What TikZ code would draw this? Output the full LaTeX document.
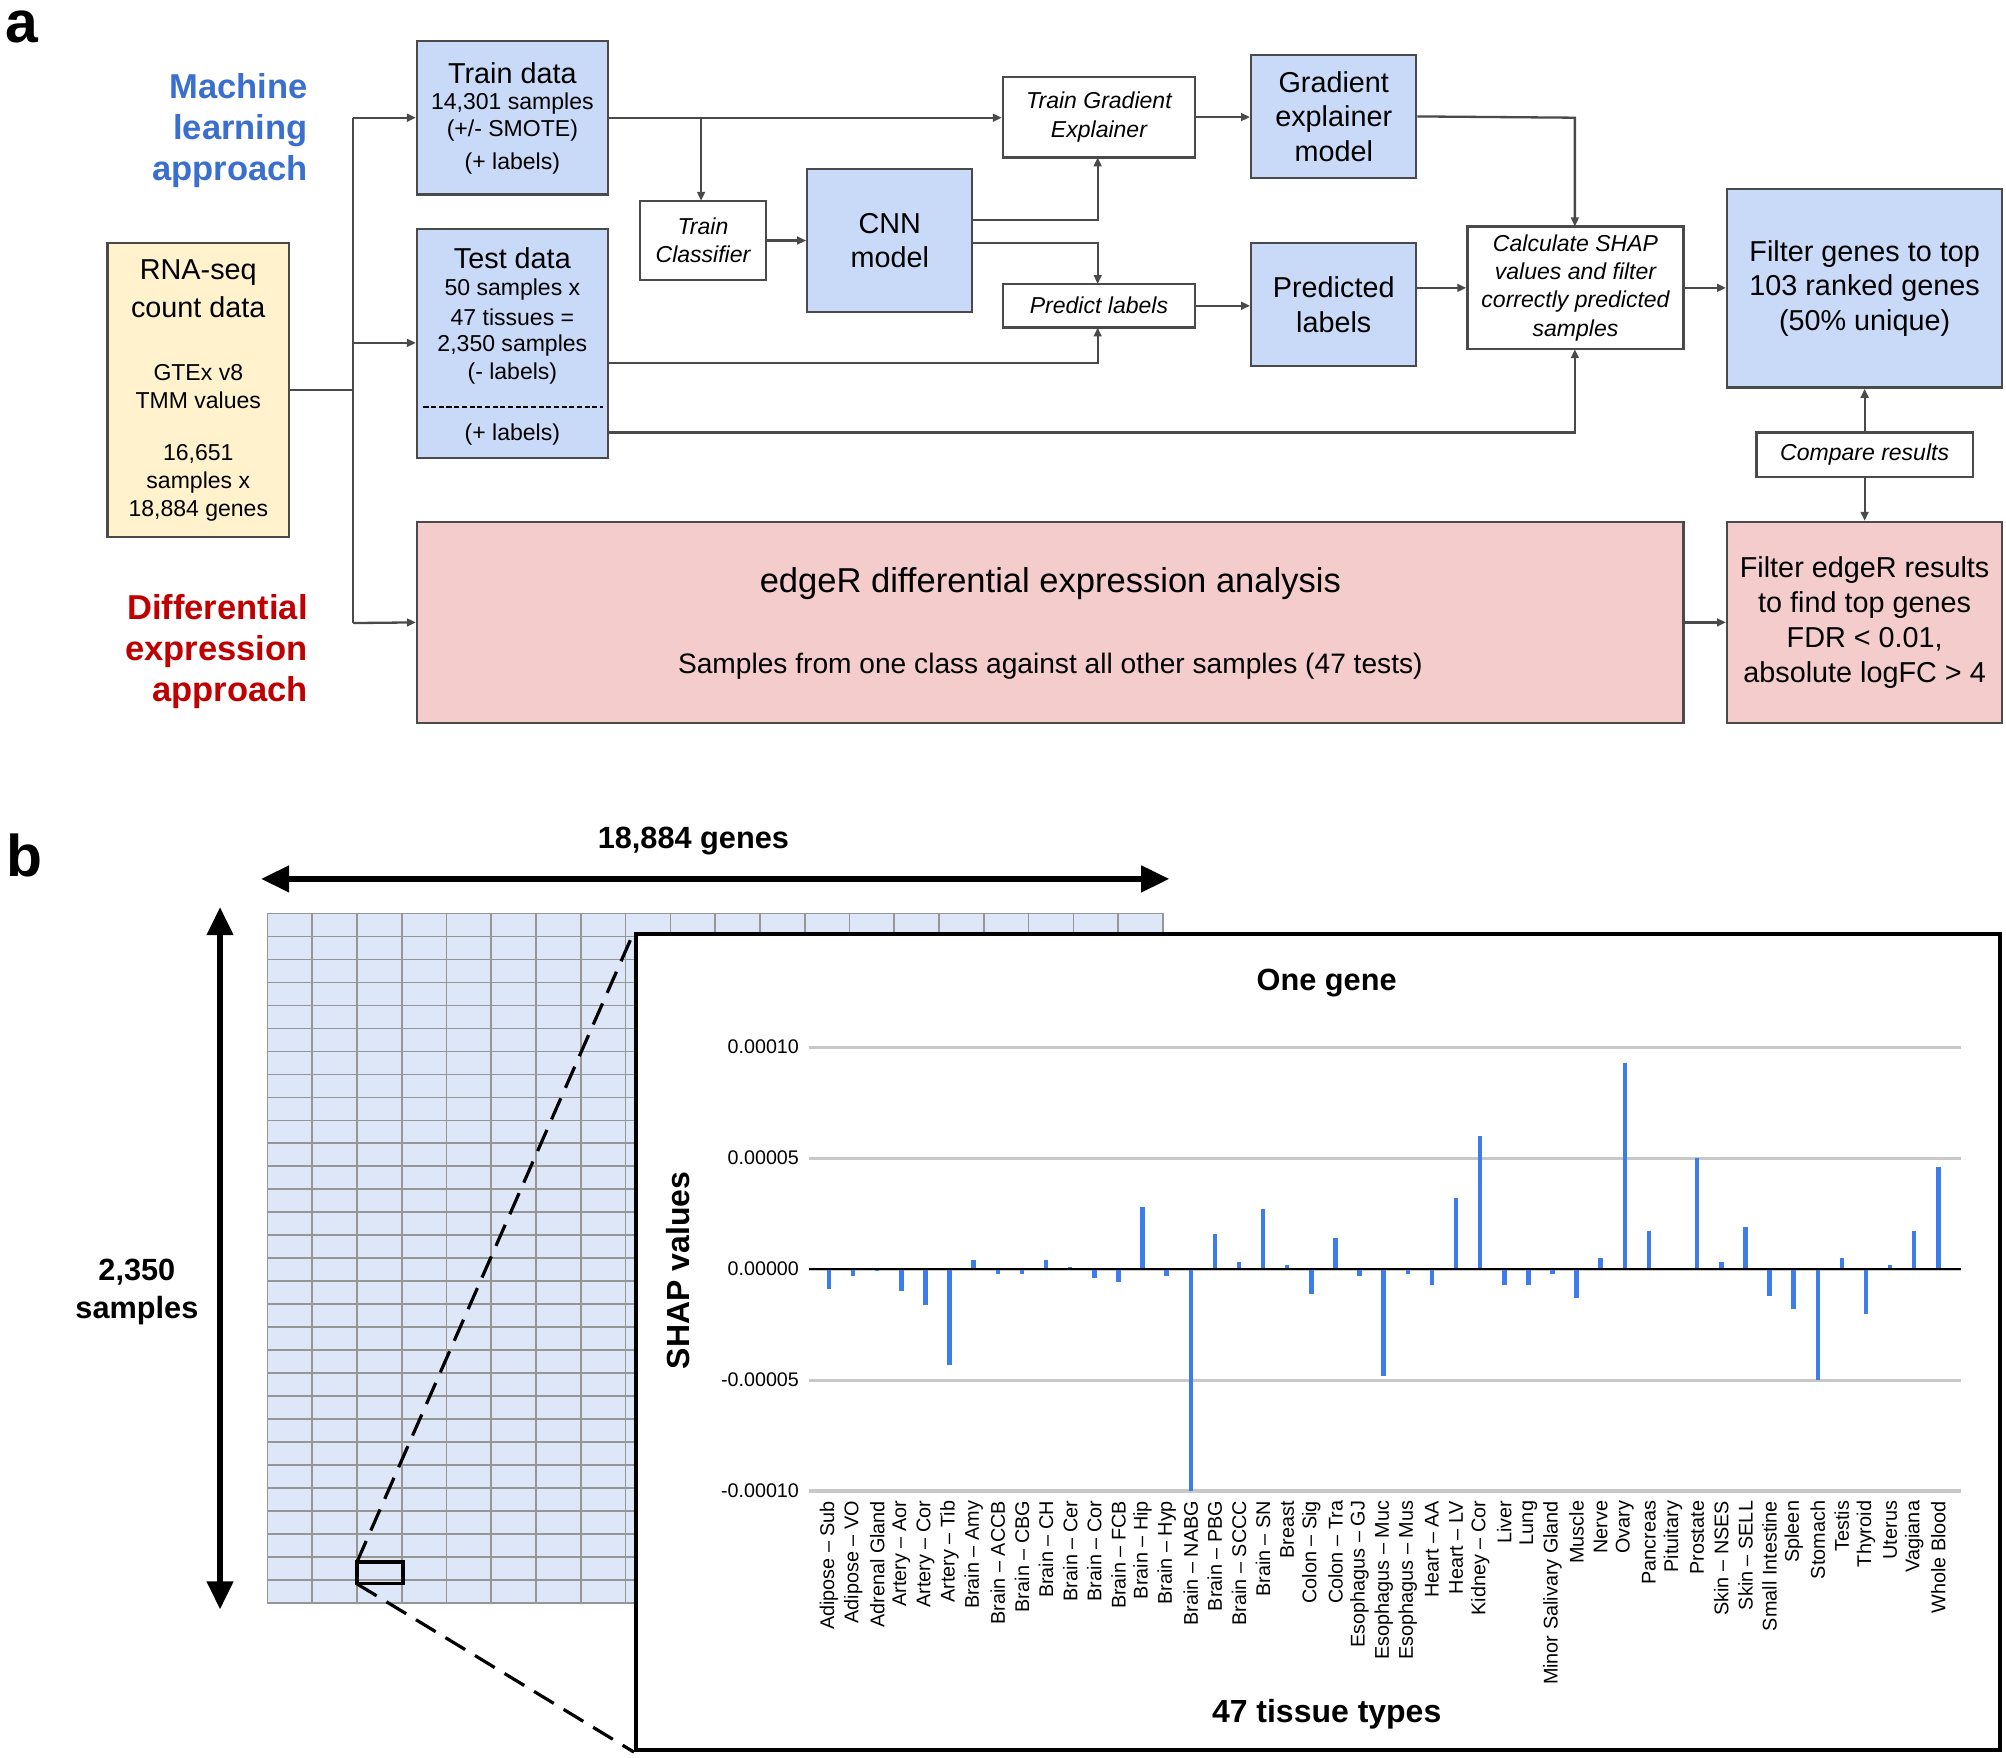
\documentclass[tikz,border=0pt]{standalone}
\usepackage{fontspec}
\setmainfont{Liberation Sans}
\usetikzlibrary{arrows.meta}
\definecolor{bl}{HTML}{C9DAF8}
\definecolor{yl}{HTML}{FFF2CC}
\definecolor{pk}{HTML}{F4CCCC}
\definecolor{mlc}{HTML}{3A6FD0}
\definecolor{dec}{HTML}{C00000}
\definecolor{ln}{HTML}{4A4A4A}
\definecolor{bar}{HTML}{3C7DEB}
\definecolor{gridfill}{HTML}{DEE7F8}
\definecolor{gridln}{HTML}{969696}
\definecolor{axln}{HTML}{C8C8C8}
\begin{document}
\begin{tikzpicture}[x=1pt,y=-1pt,
 box/.style={draw=ln,line width=1.8pt,inner sep=0pt,align=center},
 arr/.style={draw=ln,line width=1.8pt,-{Triangle[length=7pt,width=6pt]}},
 ln/.style={draw=ln,line width=1.8pt},
 fs/.style={font=\fontsize{#1}{#1}\selectfont},
 big/.style={font=\fontsize{27}{32}\selectfont\bfseries}]
\useasboundingbox (0,0) rectangle (1568,1374);
\node[font=\fontsize{46}{46}\selectfont\bfseries,anchor=base] (la) at (17,33) {a};
\node[font=\fontsize{46}{46}\selectfont\bfseries,anchor=base] (lb) at (19,685) {b};
\node[big,text=mlc,align=right,anchor=east] (ml) at (244,102) {Machine\\learning\\approach};
\node[big,text=dec,align=right,anchor=east] (de) at (244,509) {Differential\\expression\\approach};
% boxes
\node[box,fill=yl,minimum width=142pt,minimum height=230pt] (rna) at (155,305) {};
\node[fs=22.5] at (155,213) {RNA-seq}; \node[fs=22.5] at (155,240) {count data};
\node[fs=18] at (155,291) {GTEx v8}; \node[fs=18] at (155,313) {TMM values};
\node[fs=18] at (155,355) {16,651}; \node[fs=18] at (155,377) {samples x}; \node[fs=18] at (155,399) {18,884 genes};
\node[box,fill=bl,minimum width=149pt,minimum height=120pt] (train) at (400.5,92) {};
\node[fs=22.5] at (400.5,57) {Train data}; \node[fs=18] at (400.5,81) {14,301 samples};
\node[fs=18] at (400.5,102) {(+/- SMOTE)}; \node[fs=18] at (400.5,128) {(+ labels)};
\node[box,fill=bl,minimum width=149pt,minimum height=179pt] (test) at (400.5,268.5) {};
\node[fs=22.5] at (400.5,202) {Test data}; \node[fs=18] at (400.5,226) {50 samples x};
\node[fs=18] at (400.5,248) {47 tissues =}; \node[fs=18] at (400.5,270) {2,350 samples};
\node[fs=18] at (400.5,292) {(- labels)}; \node[fs=18] at (400.5,340) {(+ labels)};
\draw[line width=1.3pt,dash pattern=on 4pt off 2pt] (331,318) -- (471,318);
\node[box,fill=white,minimum width=99pt,minimum height=62pt,font=\fontsize{18}{22}\selectfont\itshape] (tc) at (549.5,188) {Train\\Classifier};
\node[box,fill=bl,minimum width=129pt,minimum height=112pt,font=\fontsize{22.5}{27}\selectfont] (cnn) at (695.5,188) {CNN\\model};
\node[box,fill=white,minimum width=150pt,minimum height=63pt,font=\fontsize{18}{22}\selectfont\itshape] (tge) at (859,91.5) {Train Gradient\\Explainer};
\node[box,fill=bl,minimum width=129pt,minimum height=96pt,font=\fontsize{22.5}{27}\selectfont] (gem) at (1042.5,91) {Gradient\\explainer\\model};
\node[box,fill=white,minimum width=150pt,minimum height=34pt,font=\fontsize{18}{22}\selectfont\itshape] (pl) at (859,239) {Predict labels};
\node[box,fill=bl,minimum width=129pt,minimum height=96pt,font=\fontsize{22.5}{27}\selectfont] (pd) at (1042.5,238) {Predicted\\labels};
\node[box,fill=white,minimum width=169pt,minimum height=96pt,font=\fontsize{18}{22}\selectfont\itshape] (shap) at (1231.5,225) {Calculate SHAP\\values and filter\\correctly predicted\\samples};
\node[box,fill=bl,minimum width=215pt,minimum height=155pt,font=\fontsize{22.5}{27}\selectfont] (fg) at (1457.5,225.5) {Filter genes to top\\103 ranked genes\\(50\% unique)};
\node[box,fill=white,minimum width=169pt,minimum height=35pt,font=\fontsize{18}{22}\selectfont\itshape] (cr) at (1457.5,355.5) {Compare results};
\node[box,fill=pk,minimum width=215pt,minimum height=157pt,font=\fontsize{22.5}{27.5}\selectfont] (fe) at (1457.5,486.5) {Filter edgeR results\\to find top genes\\FDR < 0.01,\\absolute logFC > 4};
\node[box,fill=pk,minimum width=990pt,minimum height=157pt] (edge) at (821,486.5) {};
\node[fs=27] at (821,456) {edgeR differential expression analysis};
\node[fs=22] at (821,521) {Samples from one class against all other samples (47 tests)};
% connectors
\coordinate (j) at (276,305);
\draw[ln] (rna.east |- j) -- (j);
\draw[ln] (276,92) -- (276,487);
\draw[arr] (276,92) -- (train.west);
\draw[arr] (276,268) -- (test.west |- 0,268);
\draw[arr] (276,487) -- (edge.west);
\draw[arr] (train.east) -- (tge.west |- train.east);
\draw[arr] (548,92) -- (548,157);
\draw[arr] (tc.east) -- (cnn.west |- tc.east);
\draw[arr] (cnn.east |- 0,172) -- (858,172) -- (858,123);
\draw[arr] (cnn.east |- 0,190) -- (858,190) -- (858,222);
\draw[arr] (test.east |- 0,284) -- (858,284) -- (858,256);
\draw[arr] (test.east |- 0,338) -- (1231,338) -- (1231,273);
\draw[arr] (tge.east) -- (gem.west |- tge.east);
\draw[arr] (gem.east) -- (1231,92) -- (1231,177);
\draw[arr] (pl.east) -- (pd.west |- pl.east);
\draw[arr] (pd.east |- shap.west) -- (shap.west);
\draw[arr] (shap.east) -- (fg.west |- shap.east);
\draw[arr] (cr.north) -- (fg.south);
\draw[arr] (cr.south) -- (fe.north);
\draw[arr] (edge.east) -- (fe.west |- edge.east);
% part b
\node[font=\fontsize{24}{24}\selectfont\bfseries] (gl) at (542,657) {18,884 genes};
\draw[line width=4.5pt,{Triangle[length=22pt,width=20pt]}-{Triangle[length=22pt,width=20pt]}] (204,687) -- (914,687);
\draw[line width=4.5pt,{Triangle[length=22pt,width=20pt]}-{Triangle[length=22pt,width=20pt]}] (172,709) -- (172,1258);
\node[font=\fontsize{24}{30}\selectfont\bfseries,align=center] (sl) at (107,1010) {2,350\\samples};
\fill[gridfill] (209,714) rectangle (909,1253);
\foreach \i in {0,...,20} \draw[gridln,line width=1.3pt] (209+35*\i,714) -- (209+35*\i,1253);
\foreach \i in {0,...,30} \draw[gridln,line width=1.3pt] (209,714+17.967*\i) -- (909,714+17.967*\i);
\draw[line width=2.5pt] (279,1221) rectangle (315,1238);
\coordinate (c1) at (279,1221); \coordinate (c2) at (279,1238);
\node[draw,line width=3pt,fill=white,minimum width=1066pt,minimum height=638pt,inner sep=0pt] (panel) at (1030,1049) {};
\draw[line width=2.5pt,dash pattern=on 18pt off 9pt] (c1) -- (panel.north west);
\draw[line width=2.5pt,dash pattern=on 18pt off 9pt] (c2) -- (panel.south west);
\node[font=\fontsize{24}{24}\selectfont\bfseries] at (1037,768) {One gene};
\node[font=\fontsize{25}{25}\selectfont\bfseries,rotate=90] at (530,993) {SHAP values};
\node[font=\fontsize{25}{25}\selectfont\bfseries] at (1037,1340) {47 tissue types};
\foreach \v/\t in {10/0.00010,5/0.00005,0/0.00000,-5/-0.00005,-10/-0.00010}{
 \draw[axln,line width=2.5pt] (632,992-17.35*\v) -- (1533,992-17.35*\v);
 \node[fs=15.4,anchor=east] at (628,992-17.35*\v) {\t};}
\foreach \v [count=\k from 0] in {-0.9,-0.3,-0.1,-1.0,-1.6,-4.3,0.4,-0.2,-0.2,0.4,0.1,-0.4,-0.6,2.8,-0.3,-10,1.6,0.3,2.7,0.2,-1.1,1.4,-0.3,-4.8,-0.2,-0.7,3.2,6.0,-0.7,-0.7,-0.2,-1.3,0.5,9.3,1.7,0.05,5.0,0.3,1.9,-1.2,-1.8,-5.0,0.5,-2.0,0.2,1.7,4.6}
 \draw[bar,line width=3.5pt] (648+18.85*\k,992) -- (648+18.85*\k,992-17.35*\v);
\draw[line width=2pt] (632,992) -- (1533,992);
\foreach \n [count=\k from 0] in {Adipose – Sub,Adipose – VO,Adrenal Gland,Artery – Aor,Artery – Cor,Artery – Tib,Brain – Amy,Brain – ACCB,Brain – CBG,Brain – CH,Brain – Cer,Brain – Cor,Brain – FCB,Brain – Hip,Brain – Hyp,Brain – NABG,Brain – PBG,Brain – SCCC,Brain – SN,Breast,Colon – Sig,Colon – Tra,Esophagus – GJ,Esophagus – Muc,Esophagus – Mus,Heart – AA,Heart – LV,Kidney – Cor,Liver,Lung,Minor Salivary Gland,Muscle,Nerve,Ovary,Pancreas,Pituitary,Prostate,Skin – NSES,Skin – SELL,Small Intestine,Spleen,Stomach,Testis,Thyroid,Uterus,Vagiana,Whole Blood}
 \node[fs=15.5,rotate=90,anchor=east,inner sep=0pt] at (648+18.85*\k,1173) {\n};
\end{tikzpicture}
\end{document}
